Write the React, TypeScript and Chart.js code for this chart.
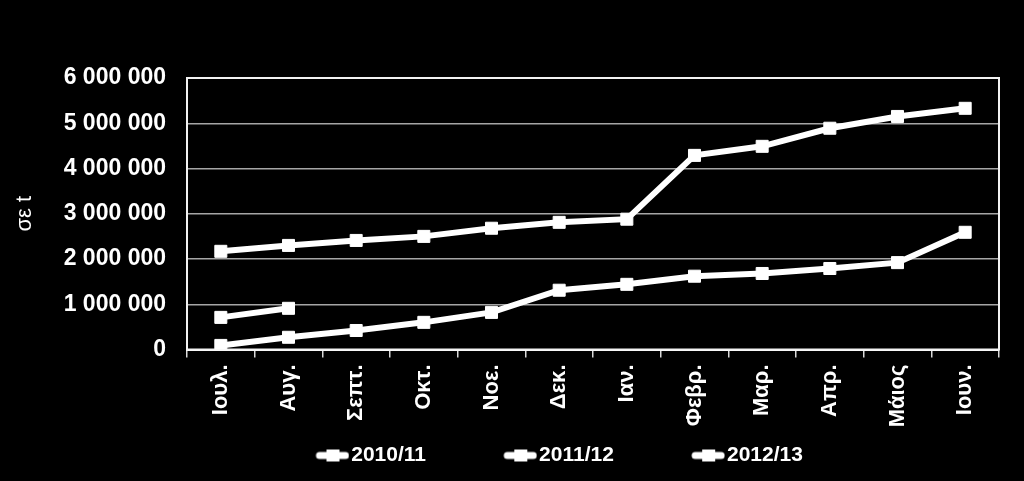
import React, { useEffect, useRef } from "react";
import { Chart, registerables } from "chart.js";

Chart.register(...registerables);

const months = ["Ιουλ.", "Αυγ.", "Σεπτ.", "Οκτ.", "Νοε.", "Δεκ.", "Ιαν.", "Φεβρ.", "Μαρ.", "Απρ.", "Μάιος", "Ιουν."];
const seriesNames = ["2010/11", "2011/12", "2012/13"];
const values2010_11 = [90000, 270000, 420000, 600000, 820000, 1310000, 1440000, 1620000, 1680000, 1790000, 1920000, 2590000];
const values2011_12 = [2170000, 2300000, 2410000, 2500000, 2680000, 2810000, 2880000, 4290000, 4490000, 4890000, 5150000, 5330000];
const values2012_13 = [710000, 910000, null, null, null, null, null, null, null, null, null, null];
const yMin = 0;
const yMax = 6000000;
const yStep = 1000000;
const yTitle = "σε t";

const FONT = "'Liberation Sans', Arial, sans-serif";

function formatThousands(v: number): string {
  return String(Math.round(v)).replace(/\B(?=(\d{3})+(?!\d))/g, " ");
}

function makeLegendSymbol(): HTMLCanvasElement {
  const c = document.createElement("canvas");
  c.width = 120;
  c.height = 16;
  const g = c.getContext("2d")!;
  g.strokeStyle = "#ffffff";
  g.fillStyle = "#ffffff";
  g.lineWidth = 7;
  g.lineCap = "round";
  g.beginPath();
  g.moveTo(90, 8);
  g.lineTo(116, 8);
  g.stroke();
  g.fillRect(97, 2, 13, 12);
  return c;
}

export default function App() {
  const ref = useRef<HTMLCanvasElement | null>(null);

  useEffect(() => {
    if (!ref.current) return;
    const symbol = makeLegendSymbol();

    const plotBorder = {
      id: "plotBorder",
      beforeDatasetsDraw(chart: any) {
        const { ctx, chartArea } = chart;
        const { left, top, right, bottom } = chartArea;
        ctx.save();
        ctx.strokeStyle = "#f2f2f2";
        ctx.lineWidth = 2;
        ctx.strokeRect(left, top, right - left, bottom - top);
        ctx.restore();
      },
    };

    const mkDs = (label: string, data: (number | null)[]) => ({
      label,
      data,
      borderColor: "#ffffff",
      backgroundColor: "#ffffff",
      borderWidth: 6,
      pointStyle: "rect" as const,
      pointRadius: 8.5,
      pointBorderWidth: 1,
      pointBorderColor: "#ffffff",
      pointBackgroundColor: "#ffffff",
      tension: 0,
      spanGaps: false,
      fill: false,
    });

    const chart = new Chart(ref.current, {
      type: "line",
      data: {
        labels: months,
        datasets: [
          mkDs(seriesNames[0], values2010_11),
          mkDs(seriesNames[1], values2011_12),
          mkDs(seriesNames[2], values2012_13),
        ],
      },
      plugins: [plotBorder],
      options: {
        responsive: false,
        animation: false,
        layout: { padding: { left: 42, right: 25, top: 78, bottom: 5 } },
        scales: {
          x: {
            type: "category",
            offset: true,
            grid: {
              display: true,
              offset: true,
              drawOnChartArea: false,
              drawTicks: true,
              tickLength: 8,
              color: "#d9d9d9",
              lineWidth: 1.5,
            },
            border: { display: true, color: "#ffffff", width: 2 },
            ticks: {
              autoSkip: false,
              minRotation: 90,
              maxRotation: 90,
              padding: 7,
              color: "#ffffff",
              font: { family: FONT, size: 22, weight: "bold" },
            },
            afterFit(scale: any) {
              scale.height = 95.5;
            },
          },
          y: {
            min: yMin,
            max: yMax,
            grid: {
              color: "#a6a6a6",
              lineWidth: 1.5,
              drawTicks: false,
            },
            border: { display: false },
            ticks: {
              stepSize: yStep,
              padding: 21,
              color: "#ffffff",
              font: { family: FONT, size: 23, weight: "bold" },
              callback: (v: any) => formatThousands(Number(v)),
            },
            title: {
              display: true,
              text: yTitle,
              color: "#ffffff",
              font: { family: FONT, size: 22, weight: "normal" },
              padding: { top: -30, bottom: 0 },
            },
            afterFit(scale: any) {
              scale.width = 145;
            },
          },
        },
        plugins: {
          tooltip: { enabled: false },
          legend: {
            display: true,
            position: "bottom",
            labels: {
              usePointStyle: true,
              pointStyleWidth: 102.6,
              padding: 0,
              color: "#ffffff",
              font: { family: FONT, size: 21, weight: "bold" },
              generateLabels: (c: any) =>
                Chart.defaults.plugins.legend.labels
                  .generateLabels(c)
                  .map((l: any) => ({ ...l, pointStyle: symbol, fontColor: "#ffffff" })),
            },
          },
        },
      } as any,
    });

    return () => chart.destroy();
  }, []);

  return (
    <div style={{ position: "fixed", left: 0, top: 0, width: 1024, height: 481, background: "#000" }}>
      <canvas ref={ref} width={1024} height={481} style={{ display: "block" }} />
    </div>
  );
}
